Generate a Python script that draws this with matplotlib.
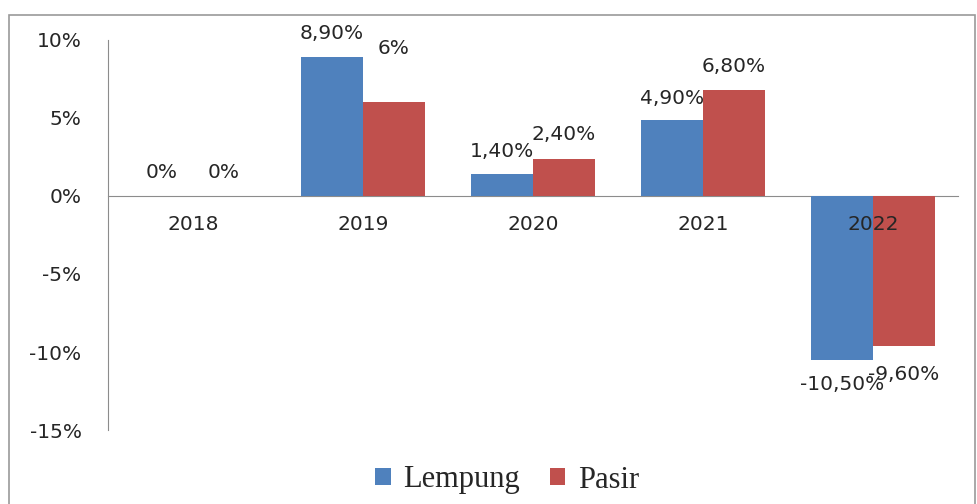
import matplotlib
matplotlib.use("Agg")
import matplotlib.pyplot as plt
import numpy as np
from matplotlib.patches import Rectangle

years = ["2018", "2019", "2020", "2021", "2022"]
lempung = [0.0, 8.9, 1.4, 4.9, -10.5]
pasir = [0.0, 6.0, 2.4, 6.8, -9.6]
lempung_labels = ["0%", "8,90%", "1,40%", "4,90%", "-10,50%"]
pasir_labels = ["0%", "6%", "2,40%", "6,80%", "-9,60%"]
yticks = [-15, -10, -5, 0, 5, 10]
ytick_labels = ["-15%", "-10%", "-5%", "0%", "5%", "10%"]

font = "DejaVu Sans"
fs = 14.5
plt.rcParams["font.family"] = [font]
plt.rcParams["text.color"] = "#262626"
plt.rcParams["xtick.color"] = "#262626"
plt.rcParams["ytick.color"] = "#262626"

blue = "#4F81BD"
red = "#C0504D"
W, H = 977, 504
fig = plt.figure(figsize=(W / 100, H / 100), dpi=100)
fig.patches.append(Rectangle((9 / W, -0.05), (975 - 9) / W, 1 - 15 / H + 0.05,
                             transform=fig.transFigure, fill=False,
                             edgecolor="#9a9a9a", linewidth=1.2))
ax = fig.add_axes([108 / W, 1 - 430 / H, (958 - 108) / W, (430 - 40) / H])

x = np.arange(len(years))
bw = 0.365
b1 = ax.bar(x - bw / 2, lempung, bw, color=blue, label="Lempung", zorder=1)
b2 = ax.bar(x + bw / 2, pasir, bw, color=red, label="Pasir", zorder=1)

ax.set_xlim(-0.5, len(years) - 0.5)
ax.set_ylim(-15, 10)
ax.set_yticks(yticks)
ax.set_yticklabels(ytick_labels)
ax.set_xticks(x)
ax.set_xticklabels(years)

ax.tick_params(axis="both", length=0, labelsize=fs)
ax.tick_params(axis="y", pad=19)
ax.tick_params(axis="x", pad=14)

for s in ["top", "right"]:
    ax.spines[s].set_visible(False)
ax.spines["bottom"].set_position(("data", 0))
ax.spines["bottom"].set_color("#8c8c8c")
ax.spines["left"].set_color("#8c8c8c")
ax.spines["bottom"].set_zorder(0.5)

l_off = [17, 17, 16, 15, -18]
p_off = [17, 39, 17, 17, -21]
for xi, v, t, o in zip(x - bw / 2, lempung, lempung_labels, l_off):
    ax.annotate(t, (xi, v), xytext=(0, o), textcoords="offset points",
                ha="center", va="center", fontsize=fs)
for xi, v, t, o in zip(x + bw / 2, pasir, pasir_labels, p_off):
    ax.annotate(t, (xi, v), xytext=(0, o), textcoords="offset points",
                ha="center", va="center", fontsize=fs)

leg = fig.legend(handles=[b1, b2], labels=["Lempung", "Pasir"], loc="center",
                 bbox_to_anchor=(507 / W, 1 - 480 / H), ncol=2, frameon=False,
                 prop={"family": "Liberation Serif", "size": 22},
                 handlelength=0.5, handleheight=0.5, handletextpad=0.4,
                 columnspacing=1.0)

fig.savefig("out.png", dpi=100)
